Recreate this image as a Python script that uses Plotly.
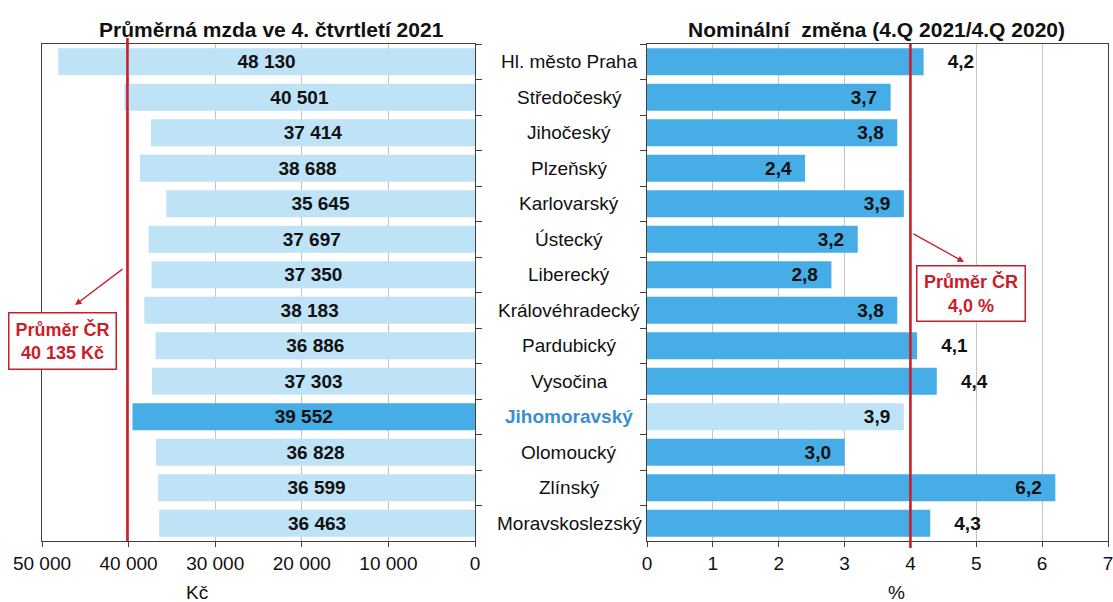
import plotly.graph_objects as go

# ---------------- data ----------------
regions = ["Hl. město Praha", "Středočeský", "Jihočeský", "Plzeňský", "Karlovarský",
           "Ústecký", "Liberecký", "Královéhradecký", "Pardubický", "Vysočina",
           "Jihomoravský", "Olomoucký", "Zlínský", "Moravskoslezský"]
wages = [48130, 40501, 37414, 38688, 35645, 37697, 37350, 38183, 36886, 37303,
         39552, 36828, 36599, 36463]
change = [4.2, 3.7, 3.8, 2.4, 3.9, 3.2, 2.8, 3.8, 4.1, 4.4, 3.9, 3.0, 6.2, 4.3]
avg_wage = 40135
avg_change = 4.0
highlight = "Jihomoravský"
wage_ticks = [50000, 40000, 30000, 20000, 10000, 0]
change_ticks = [0, 1, 2, 3, 4, 5, 6, 7]
title_left = "Průměrná mzda ve 4. čtvrtletí 2021"
title_right = "Nominální  změna (4.Q 2021/4.Q 2020)"

# ---------------- styling ----------------
OFF = 0                      # body margin removed via post_script
W, H = 1113, 602
FONT = "Liberation Sans, Arial, sans-serif"
LIGHT = "#BEE3F7"
DARK = "#46ADE6"
RED = "#C8202A"
AXIS = "#404040"
GRID = "#C4C4C4"


def px_x(p):
    return (p - OFF) / W


def px_y(p):
    return 1 - (p - OFF) / H


def fmt_thousands(v):
    return f"{v:,}".replace(",", " ")


def fmt_dec(v):
    return f"{v:.1f}".replace(".", ",")


NB = "\u00a0"
left_colors = [DARK if r == highlight else LIGHT for r in regions]
right_colors = [LIGHT if r == highlight else DARK for r in regions]
right_outside = [(v > avg_change and v < 5) for v in change]
right_text = [(NB * 4 + fmt_dec(v)) if o else (fmt_dec(v) + NB * 2)
              for v, o in zip(change, right_outside)]
right_pos = ["outside" if o else "inside" for o in right_outside]

LBL = dict(family=FONT, size=19, color="#111111", weight="bold")

fig = go.Figure()

fig.add_trace(go.Bar(
    x=wages, y=regions, orientation="h", xaxis="x", yaxis="y",
    marker=dict(color=left_colors, line=dict(width=0)),
    text=[fmt_thousands(v) for v in wages], textposition="inside",
    insidetextanchor="middle", textangle=0, constraintext="none",
    insidetextfont=LBL, hoverinfo="skip", showlegend=False,
))

fig.add_trace(go.Bar(
    x=change, y=regions, orientation="h", xaxis="x2", yaxis="y2",
    marker=dict(color=right_colors, line=dict(width=0)),
    text=right_text, textposition=right_pos,
    insidetextanchor="end", textangle=0, constraintext="none", cliponaxis=False,
    insidetextfont=LBL, outsidetextfont=LBL,
    hoverinfo="skip", showlegend=False,
))

ydom = [px_y(541), px_y(44)]
common_y = dict(type="category", autorange="reversed", showgrid=False,
                showline=True, linecolor=AXIS, linewidth=1.3, mirror=True,
                ticks="outside", tickson="boundaries", ticklen=6,
                tickcolor=AXIS, showticklabels=False, domain=ydom,
                automargin=False)
TICKF = dict(family=FONT, size=19, color="#111111")

fig.update_layout(
    width=W, height=H, margin=dict(l=0, r=0, t=0, b=0, autoexpand=False),
    paper_bgcolor="white", plot_bgcolor="white", bargap=0.24,
    font=dict(family=FONT, size=18, color="#111111"),
    xaxis=dict(domain=[px_x(42), px_x(475)], range=[50000, 0],
               tickvals=wage_ticks, ticktext=[fmt_thousands(v) for v in wage_ticks],
               showgrid=True, gridcolor=GRID, gridwidth=1,
               showline=True, linecolor=AXIS, linewidth=1.3, mirror=True,
               ticks="outside", ticklen=5, tickcolor=AXIS, zeroline=False,
               tickfont=TICKF, ticklabelstandoff=0, ticklabeloverflow="allow",
               anchor="y", automargin=False),
    yaxis=dict(common_y, side="right", anchor="x"),
    xaxis2=dict(domain=[px_x(647), px_x(1108)], range=[0, 7],
                tickvals=change_ticks, ticktext=[str(v) for v in change_ticks],
                showgrid=True, gridcolor=GRID, gridwidth=1,
                showline=True, linecolor=AXIS, linewidth=1.3, mirror=True,
                ticks="outside", ticklen=5, tickcolor=AXIS, zeroline=False,
                tickfont=TICKF, ticklabelstandoff=0, ticklabeloverflow="allow",
                anchor="y2", automargin=False),
    yaxis2=dict(common_y, side="left", anchor="x2"),
)

# average lines
fig.add_shape(type="line", xref="x", yref="paper", x0=avg_wage, x1=avg_wage,
              y0=px_y(541), y1=px_y(38), line=dict(color=RED, width=2.6))
fig.add_shape(type="line", xref="x2", yref="paper", x0=avg_change, x1=avg_change,
              y0=px_y(548), y1=px_y(44), line=dict(color=RED, width=2.6))

ann = []


def txt(text, x, y, size, color="#111111"):
    return dict(text=text, x=px_x(x), y=px_y(y), xref="paper", yref="paper",
                showarrow=False, xanchor="center", yanchor="middle",
                font=dict(family=FONT, size=size, color=color))


# titles
ann.append(txt("<b>" + title_left + "</b>", 271, 29, 21))
ann.append(txt("<b>" + title_right + "</b>", 876, 29, 21))
# axis titles
ann.append(txt("Kč", 197, 592, 19))
ann.append(txt("%", 897, 592, 19))
# category labels
for r in regions:
    if r == highlight:
        t, c = "<b>" + r + "</b>", "#3A8FD2"
    else:
        t, c = r, "#111111"
    ann.append(dict(text=t, x=px_x(569), y=r, xref="paper", yref="y2",
                    showarrow=False, xanchor="center", yanchor="middle",
                    font=dict(family=FONT, size=19, color=c)))
# average boxes
ann.append(dict(text="<b>Průměr ČR<br>" + fmt_thousands(avg_wage) + " Kč</b>",
                x=px_x(62.5), y=px_y(341), xref="paper", yref="paper",
                xanchor="center", yanchor="middle",
                showarrow=False, bgcolor="white", bordercolor=RED, borderwidth=1.5,
                borderpad=0, width=106, height=55, align="center",
                font=dict(family=FONT, size=18, color=RED)))
ann.append(dict(text="<b>Průměr ČR<br>" + fmt_dec(avg_change) + " %</b>",
                x=px_x(971), y=px_y(293.5), xref="paper", yref="paper",
                xanchor="center", yanchor="middle",
                showarrow=False, bgcolor="white", bordercolor=RED, borderwidth=1.5,
                borderpad=0, width=107, height=54, align="center",
                font=dict(family=FONT, size=18, color=RED)))
# arrows
ann.append(dict(text="", x=px_x(75), y=px_y(305), xref="paper", yref="paper",
                ax=49, ay=-37, showarrow=True, arrowhead=2, arrowsize=1,
                arrowwidth=1.3, arrowcolor=RED))
ann.append(dict(text="", x=px_x(964), y=px_y(262), xref="paper", yref="paper",
                ax=-52, ay=-29, showarrow=True, arrowhead=2, arrowsize=1,
                arrowwidth=1.3, arrowcolor=RED))

fig.update_layout(annotations=ann)
fig.write_html(
    "out.html",
    config={"displayModeBar": False},
    post_script="document.body.style.margin='0';document.body.style.overflow='hidden';",
)
